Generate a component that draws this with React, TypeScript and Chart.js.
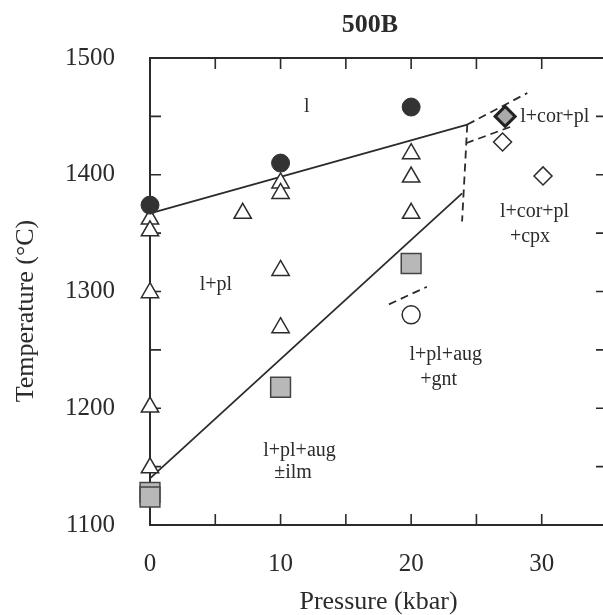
import React, { useEffect, useRef } from 'react';
import { Chart, registerables } from 'chart.js';

Chart.register(...registerables);

// ---- data (pressure in kbar, temperature in °C) ----
const xLabelValues = [0, 10, 20, 30];
const yLabelValues = [1100, 1200, 1300, 1400, 1500];

const liquidRuns = [[0, 1374], [10, 1410], [20, 1458]];
const plagRuns = [
  [0, 1362], [0, 1352], [0, 1299], [0, 1201], [0, 1149],
  [7.1, 1367], [10, 1393], [10, 1384], [10, 1318], [10, 1269],
  [20, 1418], [20, 1398], [20, 1367],
];
const augRuns = [[0, 1128], [0, 1124], [10, 1218], [20, 1324]];
const gntRuns = [[20, 1280]];
const cpxRuns = [[27, 1428], [30.1, 1399]];
const corRuns = [[27.2, 1450]];

const plagIn = [[0, 1367], [24.3, 1443]];
const augIn = [[0, 1140], [23.9, 1384]];
const corBoundary = [[24.3, 1443], [23.9, 1360]];
const corUpper = [[24.3, 1443], [28.9, 1470]];
const cpxIn = [[24.2, 1427], [27.6, 1441]];
const gntIn = [[18.3, 1289], [21.2, 1304]];

const regionText = ['l', 'l+cor+pl', 'l+pl', 'l+cor+pl', '+cpx', 'l+pl+aug', '+gnt', 'l+pl+aug', '±ilm'];
const regionP = [12, 31.0, 5.05, 29.45, 29.1, 22.65, 22.1, 11.45, 10.95];
const regionT = [1458, 1450, 1306, 1368, 1347, 1246, 1224, 1164, 1144.5];

const INK = '#2b2b2b';
const FONT = "'Liberation Serif', 'Times New Roman', serif";

const pts = (arr: number[][]) => arr.map(([x, y]) => ({ x, y }));

const framePlugin = {
  id: 'frame',
  beforeDatasetsDraw(chart: any) {
    const { ctx, chartArea, scales } = chart;
    const { left, right, top, bottom } = chartArea;
    const L = 11;
    ctx.save();
    ctx.strokeStyle = INK;
    ctx.lineWidth = 2;
    ctx.strokeRect(left, top, right - left, bottom - top);
    ctx.lineWidth = 1.6;
    ctx.beginPath();
    scales.x.ticks.forEach((t: any) => {
      const px = scales.x.getPixelForValue(t.value);
      ctx.moveTo(px, bottom); ctx.lineTo(px, bottom - L);
      ctx.moveTo(px, top); ctx.lineTo(px, top + L);
    });
    scales.y.ticks.forEach((t: any) => {
      const py = scales.y.getPixelForValue(t.value);
      ctx.moveTo(left, py); ctx.lineTo(left + L, py);
      ctx.moveTo(right, py); ctx.lineTo(right - L, py);
    });
    ctx.stroke();
    ctx.restore();
  },
  afterDatasetsDraw(chart: any) {
    const { ctx, scales } = chart;
    ctx.save();
    ctx.fillStyle = INK;
    ctx.font = `20px ${FONT}`;
    ctx.textAlign = 'center';
    ctx.textBaseline = 'middle';
    regionText.forEach((txt, i) => {
      ctx.fillText(txt, scales.x.getPixelForValue(regionP[i]), scales.y.getPixelForValue(regionT[i]));
    });
    ctx.restore();
  },
};

export default function App() {
  const ref = useRef<HTMLCanvasElement | null>(null);

  useEffect(() => {
    if (!ref.current) return;
    Chart.defaults.font.family = FONT;
    Chart.defaults.color = INK;

    const marker = (data: number[][], style: string, r: number, bg: string, border: string, bw: number) => ({
      data: pts(data),
      pointStyle: style,
      pointRadius: r,
      pointHoverRadius: r,
      pointBackgroundColor: bg,
      pointBorderColor: border,
      pointBorderWidth: bw,
      showLine: false,
      clip: false,
      order: 1,
    });
    const line = (data: number[][], dashed: boolean) => ({
      data: pts(data),
      showLine: true,
      pointRadius: 0,
      borderColor: INK,
      borderWidth: 1.8,
      borderDash: dashed ? [8, 5] : [],
      clip: false,
      order: 5,
    });

    const chart = new Chart(ref.current, {
      type: 'scatter',
      data: {
        datasets: [
          marker(liquidRuns, 'circle', 9, '#333', '#333', 1),
          marker(plagRuns, 'triangle', 10, '#fff', INK, 1.5),
          marker(augRuns, 'rect', 14, '#b8b8b8', '#444', 1.5),
          marker(gntRuns, 'circle', 9, '#fff', INK, 1.5),
          marker(cpxRuns, 'rectRot', 9, '#fff', INK, 1.5),
          marker(corRuns, 'rectRot', 10, '#aaa', '#222', 3),
          line(plagIn, false),
          line(augIn, false),
          line(corBoundary, true),
          line(corUpper, true),
          line(cpxIn, true),
          line(gntIn, true),
        ] as any,
      },
      options: {
        animation: false,
        responsive: false,
        events: [],
        layout: { padding: 0 },
        plugins: {
          legend: { display: false },
          tooltip: { enabled: false },
          title: {
            display: true,
            text: '500B',
            color: INK,
            font: { size: 26, weight: 'bold', family: FONT, lineHeight: 1.2 },
            padding: { top: 10, bottom: 16.8 },
          },
        },
        scales: {
          x: {
            type: 'linear',
            min: 0,
            max: 35,
            grid: { display: false, drawTicks: false },
            border: { display: false },
            ticks: {
              stepSize: 5,
              autoSkip: false,
              maxRotation: 0,
              padding: 24,
              color: INK,
              font: { size: 25, family: FONT },
              callback: (v: any) => (xLabelValues.includes(Number(v)) ? String(v) : ''),
            },
            title: {
              display: true,
              text: 'Pressure (kbar)',
              color: INK,
              font: { size: 26, family: FONT, lineHeight: 1 },
              padding: { top: 0, bottom: 0 },
            },
            afterFit: (s: any) => { s.height = 90; },
          },
          y: {
            type: 'linear',
            min: 1100,
            max: 1500,
            grid: { display: false, drawTicks: false },
            border: { display: false },
            ticks: {
              stepSize: 50,
              autoSkip: false,
              padding: 35,
              color: INK,
              font: { size: 25, family: FONT },
              callback: (v: any) => (yLabelValues.includes(Number(v)) ? String(v) : ''),
            },
            title: {
              display: true,
              text: 'Temperature (°C)\u00a0\u00a0\u00a0\u00a0\u00a0\u00a0',
              color: INK,
              font: { size: 26, family: FONT, lineHeight: 1 },
              padding: { top: 13, bottom: 0 },
            },
            afterFit: (s: any) => { s.width = 150; },
          },
          yRight: {
            type: 'linear',
            position: 'right',
            min: 1100,
            max: 1500,
            display: true,
            grid: { display: false, drawTicks: false },
            border: { display: false },
            ticks: { display: false },
            afterFit: (s: any) => { s.width = 133; },
          },
        },
      } as any,
      plugins: [framePlugin],
    });
    return () => chart.destroy();
  }, []);

  return (
    <div style={{ position: 'fixed', left: 0, top: 0, width: 603, height: 615, overflow: 'hidden', background: '#fff' }}>
      <canvas ref={ref} width={740} height={615} style={{ display: 'block' }} />
    </div>
  );
}
